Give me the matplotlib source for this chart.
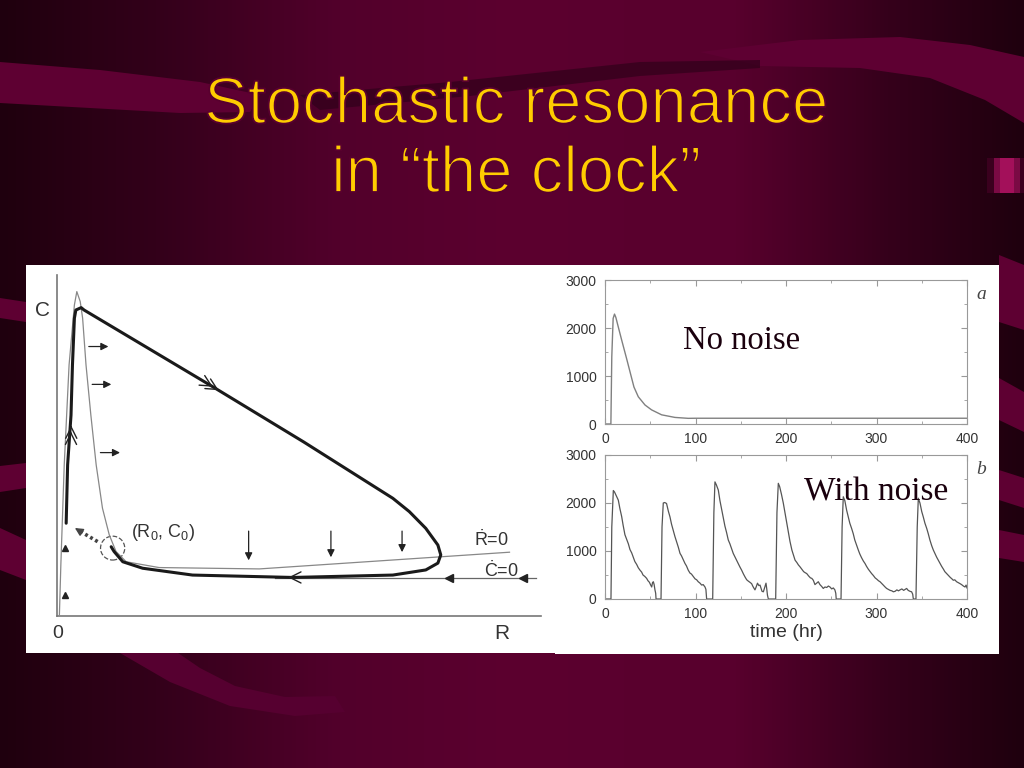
import numpy as np
import matplotlib
matplotlib.use('Agg')
import matplotlib.pyplot as plt
import matplotlib.patheffects as pe
from matplotlib.colors import LinearSegmentedColormap
from matplotlib.patches import Rectangle, Polygon, Ellipse

plt.rcParams['font.family'] = ['Liberation Sans', 'DejaVu Sans']
plt.rcParams['mathtext.fontset'] = 'custom'
plt.rcParams['mathtext.rm'] = 'Liberation Sans'
plt.rcParams['mathtext.it'] = 'Liberation Sans:italic'

# ---- data ----
title_lines = ['Stochastic resonance', 'in \u201cthe clock\u201d']

# phase plane (R, C), arbitrary units
cycle_R = [0.19, 0.22, 0.29, 0.32, 0.36, 0.39, 0.50, 0.56, 3.22, 5.10, 6.94, 7.28, 7.62,
           7.87, 7.93, 7.87, 7.62, 6.94, 4.87, 2.80, 1.77, 1.36, 1.18, 1.12]
cycle_C = [2.72, 4.43, 5.89, 7.36, 8.73, 8.97, 9.04, 8.97, 6.72, 5.10, 3.45, 3.06, 2.57,
           2.08, 1.79, 1.55, 1.35, 1.20, 1.13, 1.20, 1.40, 1.59, 1.89, 2.03]
rdot_R = [0.05, 0.08, 0.15, 0.25, 0.36, 0.41, 0.48, 0.53, 0.60, 0.70, 0.81, 0.94, 1.08,
          1.22, 1.43, 2.11, 4.18, 9.35]
rdot_C = [0.03, 1.50, 4.43, 7.36, 9.12, 9.51, 9.22, 8.73, 7.36, 5.89, 4.43, 3.16, 2.38,
          1.89, 1.59, 1.42, 1.38, 1.87]
cdot_R = [4.5, 9.9]
cdot_C = [1.11, 1.11]
right_arrows = [(0.60, 1.12, 7.90), (0.67, 1.18, 6.79), (0.84, 1.36, 4.79)]   # R0, R1, C
down_arrows = [(3.96, 2.57, 1.55), (5.66, 2.57, 1.64), (7.13, 2.57, 1.79)]     # R, C0, C1
left_heads = [(8.11, 1.11), (9.62, 1.11)]
up_heads = [(0.165, 1.99), (0.165, 0.62)]
fixed_point = (1.15, 1.99)

# time courses
t_clean = [0, 6.5, 7.5, 9, 10.5, 12, 14.7, 18.4, 23.9, 27.6, 32, 36.8, 44.2, 51.5,
           62.6, 77.3, 92, 100, 400]
c_clean = [0, 0, 1400, 2200, 2290, 2220, 2020, 1750, 1360, 1090, 770, 567, 396, 294,
           191, 137, 118, 120, 120]

t_noise = [0, 6.6, 7.5, 9.2, 10.5, 12.5, 14.7, 16.5, 18.4, 20, 22, 24, 25.8, 27.6, 29.5, 31,
           33, 35, 36.8, 38.7, 40.5, 42, 44, 46, 47.5, 49, 49.7, 50.5, 51.6, 52.5, 53.4,
           54.3, 55.2, 56, 56.4,
           61.9, 63, 64.4, 66, 68, 70, 71.8, 73.5, 75.5, 77.3, 79, 81, 82.9, 84.5, 86.5,
           88.4, 90, 92, 93.9, 95.5, 97.5, 99.5, 101.3, 103, 105, 106.8, 108.5, 110.5,
           111.5, 112.3,
           119, 120.3, 121.5, 123, 125.2, 127, 128.8, 130.7, 132.5, 134.4, 136.2, 138,
           139.8, 141.7, 143.5, 145.5, 147, 149, 151, 153, 155, 156.6, 158.5, 160, 162,
           163.5, 165.7, 167, 168.5, 170, 171.3, 172.5, 173.5, 175, 176.5, 177.9, 178.8,
           179.5, 180.5,
           188.6, 190, 191.5, 193, 195, 197, 198.9, 200.7, 202.5, 204.4, 206.5, 208.5,
           210, 212, 213.7, 215.5, 217.5, 219.5, 221, 222.9, 225, 227, 228.5, 230.2, 232,
           233.8, 235.7, 237.5, 239.5, 241.2, 243, 245, 246.8, 248.6, 250.5, 252.3, 254,
           255, 255.5,
           260.8, 262, 263.3, 265, 267, 268.8, 270.5, 272.5, 274.3, 276, 278, 279.9, 281.5,
           283.5, 285.5, 287.3, 289, 291, 293, 294.6, 296.5, 298.5, 300.5, 302.2, 303.9,
           305.5, 307.5, 309.5, 311.2, 313, 315, 317, 318.6, 320.5, 322.5, 324.3, 326, 328,
           330, 331.7, 333.3, 335, 337, 338.8, 340, 340.7,
           343.6, 345, 346.2, 348, 350, 351.7, 353.5, 355.5, 357.2, 359, 361, 362.8, 364.5,
           366.5, 368.5, 370.2, 372, 374, 375.5, 377.5, 379.5, 381.5, 383.3, 384.9, 386.5,
           388.5, 390.5, 392.3, 394, 396, 397.8, 399, 400]
c_noise = [0, 0, 1500, 2260, 2230, 2150, 2060, 1880, 1720, 1540, 1340, 1240, 1150, 1030, 960,
           880, 780, 720, 650, 600, 560, 500, 470, 430, 380, 350, 320, 290, 250, 340, 360,
           300, 190, 120, 0,
           0, 1500, 2000, 2010, 1990, 1830, 1710, 1560, 1420, 1300, 1200, 1080, 950, 900,
           820, 740, 690, 600, 540, 520, 470, 420, 400, 360, 330, 290, 300, 250, 200, 0,
           0, 1800, 2440, 2380, 2270, 2050, 1880, 1710, 1520, 1380, 1230, 1150, 1050, 950,
           880, 800, 740, 670, 600, 520, 450, 400, 370, 350, 320, 260, 190, 250, 330, 280,
           290, 220, 160, 150, 240, 330, 200, 80, 0,
           0, 1800, 2410, 2340, 2180, 2000, 1800, 1600, 1400, 1200, 1020, 900, 810, 760,
           710, 670, 620, 570, 550, 530, 480, 440, 430, 390, 300, 330, 360, 300, 260, 220,
           250, 240, 270, 250, 210, 230, 190, 120, 0,
           0, 1500, 2130, 2050, 1850, 1710, 1580, 1470, 1360, 1230, 1120, 1020, 940, 860,
           790, 740, 680, 620, 570, 530, 490, 440, 410, 380, 360, 330, 290, 250, 220, 200,
           180, 170, 150, 160, 190, 170, 190, 210, 180, 200, 220, 180, 160, 150, 100, 0,
           0, 1500, 2100, 2000, 1820, 1710, 1580, 1470, 1360, 1230, 1110, 1020, 950, 870,
           800, 740, 680, 620, 570, 530, 490, 450, 420, 390, 400, 360, 340, 320, 300, 270,
           250, 290, 230]

W, H = 1024, 768
fig = plt.figure(figsize=(10.24, 7.68), dpi=100)

# ---- slide background ----
bg = fig.add_axes([0, 0, 1, 1])
bg.set_xlim(0, W)
bg.set_ylim(H, 0)
bg.axis('off')
cmap = LinearSegmentedColormap.from_list('slide', [
    (0.0, '#1f000e'), (0.15, '#33001a'), (0.33, '#52002b'), (0.5, '#5c002f'),
    (0.72, '#58002d'), (0.87, '#35001b'), (1.0, '#1f000e')])
bg.imshow(np.linspace(0, 1, 256)[None, :], cmap=cmap, aspect='auto',
          extent=[0, W, H, 0], zorder=0)
band = '#5e0032'
swooshes = [
    [(0, 62), (100, 70), (200, 82), (260, 95), (250, 112), (180, 113), (90, 108), (0, 103)],
    [(700, 52), (800, 40), (900, 37), (970, 45), (1024, 57), (1024, 123), (985, 100),
     (930, 78), (860, 68), (760, 66)],
    [(0, 298), (26, 302), (26, 322), (0, 318)],
    [(0, 466), (26, 463), (26, 488), (0, 492)],
    [(0, 528), (26, 540), (26, 580), (0, 570)],
    [(999, 255), (1024, 265), (1024, 330), (999, 322)],
    [(999, 378), (1024, 392), (1024, 432), (999, 420)],
    [(999, 470), (1024, 478), (1024, 508), (999, 500)],
    [(999, 530), (1024, 535), (1024, 562), (999, 558)],
]
for pts in swooshes:
    bg.add_patch(Polygon(pts, closed=True, facecolor=band, edgecolor='none', zorder=1))
bg.add_patch(Polygon([(120, 653), (170, 682), (230, 706), (295, 716), (345, 712), (335, 696),
                      (285, 697), (235, 686), (200, 668), (178, 653)],
                     closed=True, facecolor='#560030', edgecolor='none', zorder=1))
bg.add_patch(Polygon([(300, 95), (450, 82), (640, 62), (760, 60), (760, 68), (640, 76),
                      (470, 96), (320, 110)],
                     closed=True, facecolor='#30001a', edgecolor='none', alpha=0.7, zorder=1))
bg.add_patch(Rectangle((987, 158), 37, 35, facecolor='#3a001e', edgecolor='none', zorder=1))
bg.add_patch(Rectangle((994, 158), 26, 35, facecolor='#7a0a44', edgecolor='none', zorder=1))
bg.add_patch(Rectangle((1000, 158), 14, 35, facecolor='#a3105a', edgecolor='none', zorder=1))
bg.add_patch(Rectangle((555, 265), 444, 389, facecolor='white', edgecolor='none', zorder=2))

for line, yb in zip(title_lines, [123, 192]):
    bg.text(516, yb, line, color='#ffcc00', fontsize=47, ha='center', va='baseline',
            zorder=3, path_effects=[pe.Normal(),
                                    pe.Stroke(linewidth=1.3, foreground='#58002e')])

# ---- phase plane ----
ax = fig.add_axes([26 / W, 1 - 653 / H, 529 / W, 388 / H])
ax.set_facecolor('white')
ax.set_xlim(-0.64, 10.29)
ax.set_ylim(-1.085, 10.29)
for s in ax.spines.values():
    s.set_visible(False)
ax.set_xticks([])
ax.set_yticks([])
ax.plot([0, 0], [0, 10], color='#777777', lw=1.2)
ax.plot([0, 10], [0, 0], color='#777777', lw=1.2)
ax.plot(rdot_R, rdot_C, color='#888888', lw=0.9)
ax.plot(cdot_R, cdot_C, color='#666666', lw=0.9)
ax.plot(cycle_R, cycle_C, color='#1a1a1a', lw=2.2, solid_capstyle='round')

for r0, r1, c in right_arrows:
    ax.annotate('', xy=(r1, c), xytext=(r0, c),
                arrowprops=dict(arrowstyle='-|>', color='#222222', lw=0.9, mutation_scale=11))
for r, c0, c1 in down_arrows:
    ax.annotate('', xy=(r, c1), xytext=(r, c0),
                arrowprops=dict(arrowstyle='-|>', color='#222222', lw=0.9, mutation_scale=11))
for r, c in left_heads:
    ax.plot(r, c, marker='<', color='#222222', ms=6)
for r, c in up_heads:
    ax.plot(r, c, marker='^', color='#222222', ms=5)


# open chevrons along the cycle
def chevron(x, y, dx, dy):
    ax.annotate('', xy=(x, y), xytext=(x - dx, y - dy),
                arrowprops=dict(arrowstyle='->', color='#222222', lw=1.0, mutation_scale=20,
                                shrinkA=0, shrinkB=0))


chevron(3.22, 6.72, 0.06, -0.05)
chevron(3.34, 6.62, 0.06, -0.05)
chevron(4.78, 1.13, -0.06, 0)
chevron(0.29, 5.40, 0.0, 0.06)
chevron(0.295, 5.58, 0.0, 0.06)

ax.add_patch(Ellipse(fixed_point, 0.50, 0.70, fill=False, ls='--', lw=0.9,
                     edgecolor='#555555'))
ax.plot([0.84, 0.46], [2.18, 2.50], color='#444444', lw=2.6, ls=(0, (0.8, 0.8)))
ax.annotate('', xy=(0.37, 2.58), xytext=(0.46, 2.50),
            arrowprops=dict(arrowstyle='-|>', color='#444444', lw=1.0, mutation_scale=12,
                            shrinkA=0, shrinkB=0))

txt = '#333333'
ax.text(-0.30, 8.95, 'C', fontsize=15, color=txt, ha='center', va='center')
ax.text(0.02, -0.5, '0', fontsize=14, color=txt, ha='center', va='center')
ax.text(9.2, -0.5, 'R', fontsize=15, color=txt, ha='center', va='center')
ax.text(1.53, 2.45, '(R$_0$, C$_0$)', fontsize=13, color=txt, ha='left', va='center')
ax.text(8.62, 2.22, r'$\dot{\mathrm{R}}$=0', fontsize=13, color=txt, ha='left', va='center')
ax.text(8.82, 1.34, r'$\dot{\mathrm{C}}$=0', fontsize=13, color=txt, ha='left', va='center')


# ---- time courses ----
def style_panel(a):
    a.set_xlim(0, 400)
    a.set_ylim(0, 3000)
    a.set_xticks([0, 100, 200, 300, 400])
    a.set_xticks([50, 150, 250, 350], minor=True)
    a.set_yticks([0, 1000, 2000, 3000])
    a.set_yticks([500, 1500, 2500], minor=True)
    a.tick_params(which='both', direction='in', top=True, right=True, colors='#999999',
                  labelcolor='#333333', labelsize=10)
    a.tick_params(which='major', length=4, pad=6)
    a.tick_params(which='minor', length=2.5)
    for s in a.spines.values():
        s.set_color('#999999')


ax_a = fig.add_axes([605 / W, 1 - 424 / H, 362 / W, 144 / H])
style_panel(ax_a)
ax_a.plot(t_clean, c_clean, color='#808080', lw=1.0)
ax_a.text(1.04, 0.9, 'a', transform=ax_a.transAxes, fontsize=14, style='italic',
          family='Liberation Serif', color='#444444', ha='center', va='center')
ax_a.text(0.215, 0.58, 'No noise', transform=ax_a.transAxes, fontsize=23.5,
          family='Liberation Serif', color='#1a000d', ha='left', va='center')

ax_b = fig.add_axes([605 / W, 1 - 599 / H, 362 / W, 144 / H])
style_panel(ax_b)
ax_b.plot(t_noise, c_noise, color='#555555', lw=0.9)
ax_b.text(1.04, 0.9, 'b', transform=ax_b.transAxes, fontsize=14, style='italic',
          family='Liberation Serif', color='#444444', ha='center', va='center')
ax_b.text(0.55, 0.74, 'With noise', transform=ax_b.transAxes, fontsize=24,
          family='Liberation Serif', color='#1a000d', ha='left', va='center')
ax_b.set_xlabel('time (hr)', fontsize=14, color='#333333', labelpad=2)

fig.savefig('out.png', dpi=100)
